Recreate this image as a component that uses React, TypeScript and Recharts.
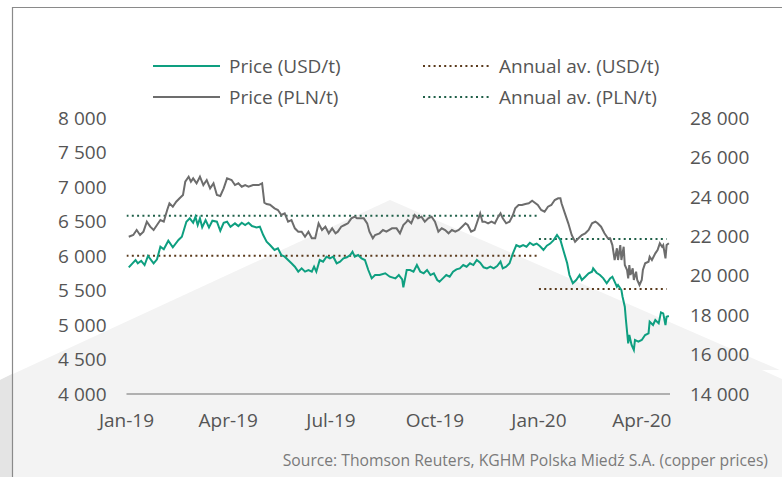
import { LineChart, Line, XAxis, YAxis, Legend } from "recharts";

const TEAL = "#0e9f80";
const GRAY = "#6d6d6d";
const BROWN = "#5a3a1c";
const GREEN = "#1f5f48";
const FONT = "'Open Sans', sans-serif";

// day offsets counted from 1 Jan 2019
const tickDays = [0, 90, 181, 273, 365, 456];
const tickLabels = ["Jan-19", "Apr-19", "Jul-19", "Oct-19", "Jan-20", "Apr-20"];
const usdTicks = [4000, 4500, 5000, 5500, 6000, 6500, 7000, 7500, 8000];
const plnTicks = [14000, 16000, 18000, 20000, 22000, 24000, 26000, 28000];

const usdDays = [
  2, 8, 10, 13, 16, 19, 24, 27, 30, 33, 37, 41, 46, 49, 53, 56, 59, 61, 63, 65, 67, 70, 73, 76, 80, 83, 86, 89, 92, 96,
  99, 102, 105, 108, 111, 115, 118, 121, 124, 127, 131, 134, 137, 140, 143, 146, 149, 152, 155, 158, 161, 164, 166, 168,
  171, 174, 177, 180, 183, 186, 189, 192, 195, 198, 200, 202, 205, 208, 211, 214, 217, 220, 224, 229, 233, 238, 241, 244,
  245, 248, 251, 254, 257, 260, 263, 266, 269, 272, 275, 277, 280, 283, 286, 289, 292, 295, 298, 301, 304, 307, 310, 313,
  316, 319, 322, 325, 328, 331, 333, 336, 339, 342, 345, 348, 351, 354, 357, 360, 363, 366, 369, 372, 375, 378, 381, 384,
  387, 390, 392, 395, 398, 401, 403, 406, 409, 412, 413, 416, 419, 422, 425, 428, 430, 432, 434, 435, 438, 439, 441, 442,
  444, 445, 447, 449, 450, 453, 456, 459, 462, 463, 466, 468, 471, 473, 475, 477, 478, 480,
];
const usdPrices = [
  5836, 5942, 5894, 5931, 5869, 6000, 5894, 5952, 6134, 6097, 6221, 6126, 6232, 6280, 6497, 6546, 6482, 6569, 6449, 6546,
  6415, 6521, 6415, 6511, 6497, 6366, 6482, 6497, 6424, 6473, 6434, 6482, 6449, 6482, 6434, 6415, 6424, 6304, 6207, 6160,
  6087, 6111, 6014, 5990, 5942, 5894, 5845, 5773, 5821, 5773, 5797, 5773, 5845, 5773, 5942, 5918, 5990, 5966, 5990, 5894,
  5918, 5966, 5981, 6014, 6062, 5990, 6014, 5966, 5942, 5797, 5676, 5724, 5724, 5749, 5700, 5676, 5724, 5662, 5546, 5797,
  5797, 5773, 5869, 5773, 5749, 5797, 5724, 5749, 5652, 5628, 5676, 5724, 5700, 5773, 5807, 5821, 5869, 5845, 5894, 5869,
  5942, 5903, 5836, 5821, 5845, 5821, 5855, 5918, 5821, 5845, 5894, 6039, 6159, 6134, 6159, 6134, 6192, 6159, 6180, 6140,
  6087, 6150, 6180, 6230, 6304, 6232, 6062, 5894, 5724, 5604, 5652, 5724, 5652, 5700, 5749, 5773, 5821, 5758, 5724, 5676,
  5604, 5676, 5700, 5628, 5555, 5580, 5507, 5410, 5265, 5072, 4735, 4855, 4710, 4638, 4783, 4758, 4783, 4855, 4880, 5048,
  5000, 5072, 5024, 5183, 5169, 5000, 5120, 5130,
];

const plnDays = [
  2, 6, 9, 12, 15, 18, 21, 24, 27, 30, 33, 36, 38, 41, 44, 47, 50, 52, 55, 57, 59, 62, 65, 68, 71, 74, 77, 80, 83, 86, 89,
  93, 96, 99, 102, 105, 108, 112, 117, 120, 122, 124, 127, 131, 134, 137, 140, 143, 146, 149, 152, 155, 158, 161, 164, 167,
  170, 173, 176, 179, 182, 185, 187, 190, 193, 196, 199, 202, 204, 207, 210, 213, 215, 218, 220, 224, 227, 230, 235, 239,
  242, 245, 248, 249, 252, 255, 258, 261, 264, 267, 270, 273, 276, 279, 282, 285, 288, 291, 294, 297, 300, 302, 305, 308,
  311, 313, 315, 317, 320, 323, 326, 329, 331, 333, 336, 339, 342, 344, 347, 350, 353, 356, 359, 362, 364, 367, 370, 373,
  376, 379, 382, 384, 385, 388, 391, 394, 397, 400, 403, 406, 409, 412, 415, 417, 420, 423, 426, 428, 430, 432, 434, 435,
  437, 438, 440, 441, 443, 444, 445, 446, 448, 449, 451, 452, 454, 456, 457, 459, 462, 463, 465, 468, 470, 472, 474, 475,
  477, 478, 480,
];
const plnPrices = [
  21978, 22065, 22318, 22065, 22234, 22741, 22487, 22318, 22572, 22826, 22741, 23333, 23672, 23500, 23754, 23926, 24093,
  24768, 25022, 24768, 24940, 24686, 25022, 24600, 24855, 24433, 24686, 24093, 24043, 24433, 24940, 24855, 24600, 24686,
  24516, 24600, 24516, 24600, 24600, 24686, 23702, 23637, 23600, 23418, 23333, 23079, 23165, 22741, 22826, 22404, 22234,
  22234, 21978, 22234, 21897, 21897, 22658, 22318, 22487, 22150, 22404, 22150, 22234, 22487, 22572, 22658, 22911, 22995,
  22911, 22911, 22911, 22658, 22234, 21897, 22065, 22150, 22318, 22234, 22404, 22404, 22150, 22572, 22741, 22826, 22658,
  23079, 22911, 22995, 22741, 22911, 22995, 22741, 22234, 22404, 22318, 22150, 22318, 22234, 22318, 22487, 22658, 22572,
  22234, 22318, 22826, 23165, 22741, 22741, 22658, 22741, 22658, 22995, 23165, 22911, 22658, 22741, 23079, 23418, 23586,
  23586, 23637, 23672, 23805, 23672, 23586, 23333, 23247, 23500, 23586, 23840, 23926, 23926, 23672, 23165, 22658, 22065,
  21724, 21897, 22065, 22150, 22318, 22658, 22741, 22658, 22487, 22150, 21897, 21897, 21555, 20796, 21390, 20796, 21555,
  20796, 21470, 20543, 20289, 19868, 20543, 20036, 20375, 19782, 20203, 19782, 19528, 19782, 20289, 20629, 20710, 20965,
  20796, 21136, 21304, 21643, 21470, 21555, 20880, 21555, 21643,
];

// annual averages: 2019 and 2020 (year to date)
const avgStart = [0, 365];
const avgEnd = [363, 478];
const usdAverages = [6005, 5520];
const plnAverages = [23040, 21860];

const usdData = usdDays.map((day, i) => ({ day, value: usdPrices[i] }));
const plnData = plnDays.map((day, i) => ({ day, value: plnPrices[i] }));
const avgSegment = (values: number[], i: number) => [
  { day: avgStart[i], value: values[i] },
  { day: avgEnd[i], value: values[i] },
];

const fmtThousands = (v: number) => `${Math.floor(v / 1000)} ${String(v % 1000).padStart(3, "0")}`;
const fmtDay = (d: number) => tickLabels[tickDays.indexOf(d)] ?? "";

const legendItems = [
  { label: "Price (USD/t)", color: TEAL, dotted: false, x: 153, y: 26 },
  { label: "Price (PLN/t)", color: GRAY, dotted: false, x: 153, y: 57 },
  { label: "Annual av. (USD/t)", color: BROWN, dotted: true, x: 423, y: 26 },
  { label: "Annual av. (PLN/t)", color: GREEN, dotted: true, x: 423, y: 57 },
];

const renderLegend = () => (
  <svg width={782} height={80}>
    {legendItems.map((it) => (
      <g key={it.label}>
        <line
          x1={it.x}
          x2={it.x + 67}
          y1={it.y}
          y2={it.y}
          stroke={it.color}
          strokeWidth={2}
          strokeDasharray={it.dotted ? "2 3.3" : undefined}
        />
        <text x={it.x + 76} y={it.y + 7} fontFamily={FONT} fontSize={19} fill="#555">
          {it.label}
        </text>
      </g>
    ))}
  </svg>
);

const tickStyle = { fontFamily: FONT, fontSize: 19, fill: "#555" };

const App = () => {
  return (
    <div style={{ position: "absolute", left: 0, top: 0, width: 782, height: 477, background: "#fff", overflow: "hidden" }}>
      <svg width={782} height={477} style={{ position: "absolute", left: 0, top: 0 }}>
        <polygon points="390,200 782,371 782,477 0,477 0,380" fill="#f3f3f3" />
        <polygon points="0,380 12,374 12,477 0,477" fill="#e4e4e4" />
        <polygon points="762,370 782,370 782,379" fill="#fff" />
        <path d="M12.5 477 V7.5 H782" fill="none" stroke="#8a8a8a" strokeWidth={1.2} />
        <text x={768} y={466} textAnchor="end" fontFamily={FONT} fontSize={15.7} fill="#7a7a7a">
          Source: Thomson Reuters, KGHM Polska Miedź S.A. (copper prices)
        </text>
      </svg>
      <div style={{ position: "absolute", left: 0, top: 0 }}>
        <LineChart width={782} height={477} margin={{ top: 118, right: 0, bottom: 53, left: 0 }}>
          <XAxis
            dataKey="day"
            type="number"
            domain={[0, 481]}
            ticks={tickDays}
            tickFormatter={fmtDay}
            interval={0}
            tickLine={false}
            tickSize={0}
            tickMargin={20}
            height={30}
            axisLine={{ stroke: "#9a9a9a", strokeWidth: 1.5 }}
            tick={tickStyle}
            allowDataOverflow
          />
          <YAxis
            yAxisId="usd"
            orientation="left"
            width={126.5}
            domain={[4000, 8000]}
            ticks={usdTicks}
            interval={0}
            tickFormatter={fmtThousands}
            axisLine={false}
            tickLine={false}
            tickSize={0}
            tickMargin={20}
            tick={tickStyle}
          />
          <YAxis
            yAxisId="pln"
            orientation="right"
            width={112}
            domain={[14000, 28000]}
            ticks={plnTicks}
            interval={0}
            tickFormatter={fmtThousands}
            axisLine={false}
            tickLine={false}
            tickSize={0}
            tickMargin={20}
            tick={tickStyle}
          />
          <Legend
            content={renderLegend}
            layout="horizontal"
            verticalAlign="middle"
            align="center"
            wrapperStyle={{ top: 40, left: 0, width: 782 }}
          />
          {avgStart.map((_, i) => (
            <Line
              key={`usd-avg-${i}`}
              yAxisId="usd"
              data={avgSegment(usdAverages, i)}
              dataKey="value"
              stroke={BROWN}
              strokeWidth={2}
              strokeDasharray="2 3.3"
              dot={false}
              activeDot={false}
              isAnimationActive={false}
            />
          ))}
          {avgStart.map((_, i) => (
            <Line
              key={`pln-avg-${i}`}
              yAxisId="pln"
              data={avgSegment(plnAverages, i)}
              dataKey="value"
              stroke={GREEN}
              strokeWidth={2}
              strokeDasharray="2 3.3"
              dot={false}
              activeDot={false}
              isAnimationActive={false}
            />
          ))}
          <Line
            yAxisId="pln"
            data={plnData}
            dataKey="value"
            stroke={GRAY}
            strokeWidth={2}
            dot={false}
            activeDot={false}
            isAnimationActive={false}
          />
          <Line
            yAxisId="usd"
            data={usdData}
            dataKey="value"
            stroke={TEAL}
            strokeWidth={2}
            dot={false}
            activeDot={false}
            isAnimationActive={false}
          />
        </LineChart>
      </div>
    </div>
  );
};

export default App;
